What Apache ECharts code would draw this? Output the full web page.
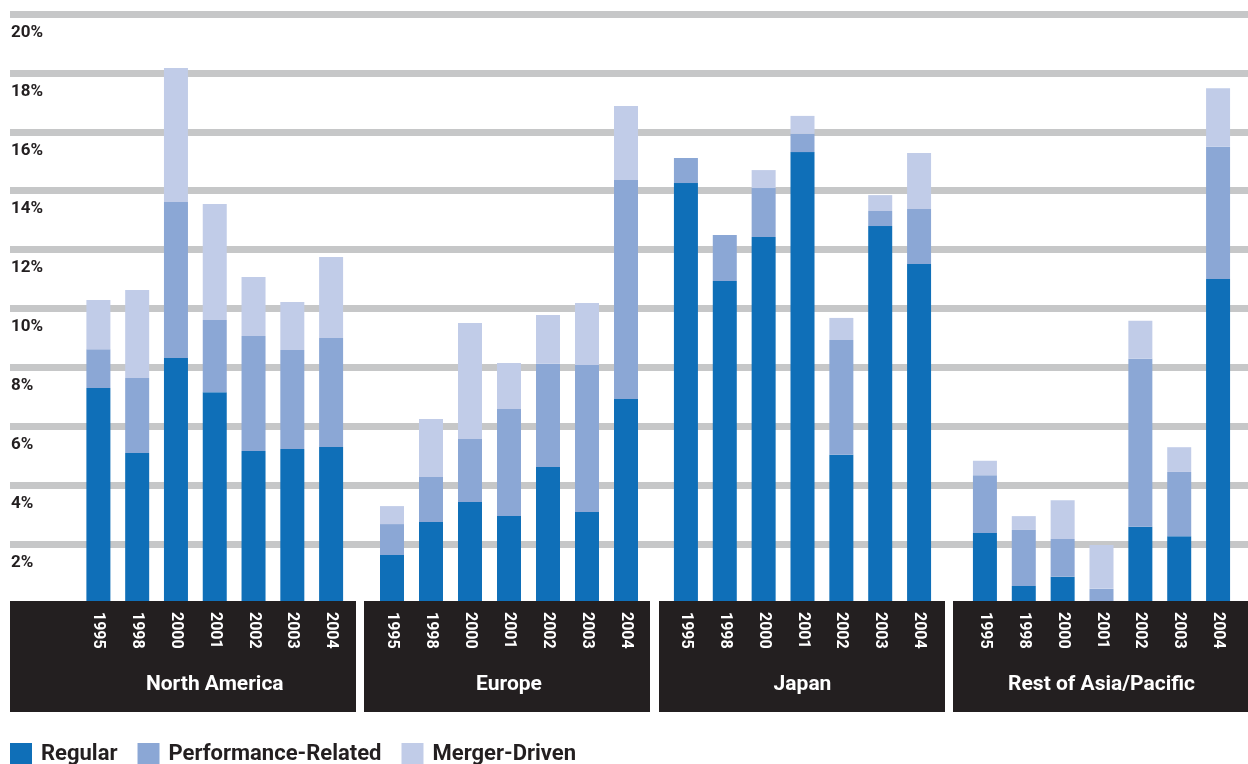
<!DOCTYPE html>
<html>
<head>
<meta charset="utf-8">
<script src="https://cdn.jsdelivr.net/npm/echarts@6/dist/echarts.min.js"></script>
<style>
  html, body { margin: 0; padding: 0; background: #fff; }
  #chart { width: 1248px; height: 764px; }
</style>
</head>
<body>
<div id="chart"></div>
<script>
// 数据
var years = ['1995', '1998', '2000', '2001', '2002', '2003', '2004'];
var regions = ['North America', 'Europe', 'Japan', 'Rest of Asia/Pacific'];
var seriesNames = ['Regular', 'Performance-Related', 'Merger-Driven'];
var yTicks = [2, 4, 6, 8, 10, 12, 14, 16, 18, 20];

var naRegular     = [7.30, 5.09, 8.32, 7.16, 5.16, 5.23, 5.30];
var naPerformance = [1.32, 2.55, 5.30, 2.45, 3.91, 3.36, 3.70];
var naMerger      = [1.67, 2.99, 4.55, 3.94, 2.00, 1.63, 2.75];

var euRegular     = [1.63, 2.75, 3.43, 2.95, 4.62, 3.09, 6.93];
var euPerformance = [1.05, 1.53, 2.14, 3.64, 3.50, 4.99, 7.43];
var euMerger      = [0.61, 1.97, 3.94, 1.56, 1.66, 2.11, 2.52];

var jpRegular     = [14.26, 10.93, 12.43, 15.31, 5.03, 12.80, 11.51];
var jpPerformance = [0.85, 1.57, 1.66, 0.62, 3.90, 0.51, 1.87];
var jpMerger      = [0, 0, 0.61, 0.61, 0.75, 0.54, 1.90];

var apRegular     = [2.38, 0.58, 0.89, 0, 2.59, 2.27, 11.00];
var apPerformance = [1.96, 1.90, 1.28, 0.48, 5.70, 2.18, 4.49];
var apMerger      = [0.49, 0.47, 1.32, 1.49, 1.29, 0.84, 1.99];

var regionData = [
    [naRegular, naPerformance, naMerger],
    [euRegular, euPerformance, euMerger],
    [jpRegular, jpPerformance, jpMerger],
    [apRegular, apPerformance, apMerger]
];

var colors = ['#0f6fb8', '#8ba7d5', '#c1cce8'];
var fontFamily = 'Roboto, "Noto Sans", sans-serif';

// 每个地区一个 grid（左右边界）
var gridBounds = [[79, 350.5], [372.5, 645.5], [666.5, 938.5], [965.5, 1237.5]];
// 深色底板
var panels = [[10, 346], [364, 286], [659, 286], [953, 295]];

var myChart = echarts.init(document.getElementById('chart'));

var grids = [{ left: 10, right: 0, top: 14, bottom: 220, show: false }];
var xAxes = [{ gridIndex: 0, type: 'value', show: false }];
var yAxes = [{
    gridIndex: 0,
    type: 'value',
    min: yTicks[0],
    max: yTicks[yTicks.length - 1],
    interval: 2,
    axisLine: { show: false },
    axisTick: { show: false },
    splitLine: { lineStyle: { color: '#c6c7c8', width: 7 } },
    axisLabel: {
        inside: true,
        margin: 1,
        verticalAlign: 'top',
        padding: [10, 0, 0, 0],
        color: '#231f20',
        fontSize: 17,
        fontWeight: 'bold',
        fontFamily: fontFamily,
        formatter: '{value}%'
    }
}];
var series = [];

regions.forEach(function (name, i) {
    var gi = i + 1;
    grids.push({
        left: gridBounds[i][0],
        width: gridBounds[i][1] - gridBounds[i][0],
        top: 14,
        bottom: 161,
        show: false
    });
    xAxes.push({
        gridIndex: gi,
        type: 'category',
        data: years,
        z: 20,
        name: name,
        nameLocation: 'middle',
        nameGap: 71,
        nameTextStyle: { color: '#ffffff', fontSize: 21, fontWeight: 'bold', fontFamily: fontFamily },
        axisLine: { show: false },
        axisTick: { show: false },
        axisLabel: {
            rotate: -90,
            margin: 9,
            interval: 0,
            color: '#ffffff',
            fontSize: 16,
            fontWeight: 'bold',
            fontFamily: fontFamily
        }
    });
    yAxes.push({ gridIndex: gi, type: 'value', min: 0, max: 20, show: false });
    seriesNames.forEach(function (sn, k) {
        series.push({
            name: sn,
            type: 'bar',
            stack: 'r' + i,
            xAxisIndex: gi,
            yAxisIndex: gi,
            barWidth: 24,
            itemStyle: { color: colors[k] },
            data: regionData[i][k]
        });
    });
});

var option = {
    backgroundColor: '#ffffff',
    animation: false,
    color: colors,
    grid: grids,
    xAxis: xAxes,
    yAxis: yAxes,
    legend: {
        data: seriesNames,
        left: 10,
        top: 743,
        padding: 0,
        icon: 'rect',
        itemWidth: 22,
        itemHeight: 22,
        itemGap: 20,
        textStyle: { color: '#231f20', fontSize: 22, fontWeight: 'bold', fontFamily: fontFamily, padding: [0, 0, 0, 4] }
    },
    graphic: panels.map(function (p) {
        return {
            type: 'rect',
            z: 10,
            shape: { x: p[0], y: 601, width: p[1], height: 111 },
            style: { fill: '#231f20' }
        };
    }),
    series: series
};

myChart.setOption(option);
</script>
</body>
</html>
